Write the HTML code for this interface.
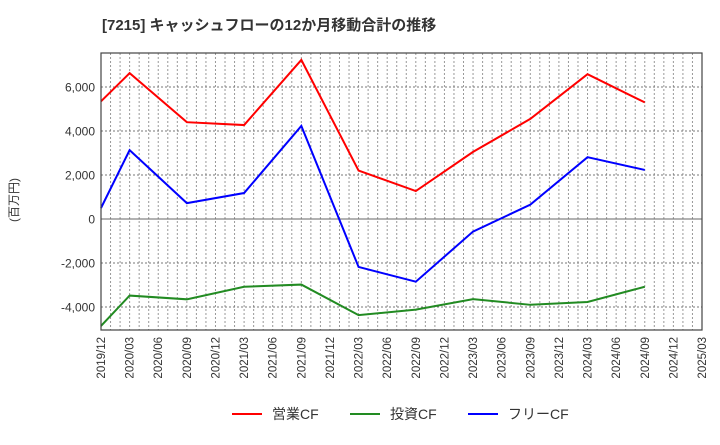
<!DOCTYPE html>
<html><head><meta charset="utf-8"><style>
body{margin:0;background:#fff}
svg text{font-family:"Liberation Sans","Noto Sans CJK JP",sans-serif}
</style></head><body>
<svg width="720" height="440" xmlns="http://www.w3.org/2000/svg">
<rect width="720" height="440" fill="#fff"/>
<text x="102" y="30" font-size="15" font-weight="bold" fill="#333">[7215]  キャッシュフローの12か月移動合計の推移</text>
<text transform="translate(18,200) rotate(-90)" font-size="12" fill="#333" text-anchor="middle">(百万円)</text>
<g id="grid"></g>
<g id="series"></g>
<rect x="101" y="53" width="601" height="277" fill="none" stroke="#444" stroke-width="1.2"/>
<g id="legend" font-size="14" fill="#333">
<line x1="232" y1="414" x2="262" y2="414" stroke="#ff0000" stroke-width="2"/>
<text x="272" y="419">営業CF</text>
<line x1="350" y1="414" x2="380" y2="414" stroke="#228b22" stroke-width="2"/>
<text x="390" y="419">投資CF</text>
<line x1="468" y1="414" x2="498" y2="414" stroke="#0000ff" stroke-width="2"/>
<text x="508" y="419">フリーCF</text>
</g>
</svg>
<script>
const xLabels=["2019/12","2020/03","2020/06","2020/09","2020/12","2021/03","2021/06","2021/09","2021/12","2022/03","2022/06","2022/09","2022/12","2023/03","2023/06","2023/09","2023/12","2024/03","2024/06","2024/09","2024/12","2025/03"];
const yTicks=[-4000,-2000,0,2000,4000,6000];
const pointQuarters=[0,1,3,5,7,9,11,13,15,17,19];
const operatingCF=[5350,6630,4400,4270,7230,2200,1270,3050,4550,6580,5300];
const investingCF=[-4860,-3480,-3650,-3080,-2980,-4370,-4120,-3640,-3900,-3770,-3080];
const freeCF=[500,3130,720,1180,4230,-2180,-2850,-570,650,2810,2230];
const X0=101,X1=702,Y0=53,Y1=330,YMIN=-5045,YMAX=7545;
const xs=q=>X0+(X1-X0)*q/(xLabels.length-1);
const ys=v=>Y1-(v-YMIN)/(YMAX-YMIN)*(Y1-Y0);
const NS="http://www.w3.org/2000/svg";
const grid=document.getElementById('grid'),ser=document.getElementById('series'),svg=document.querySelector('svg');
function mk(tag,attrs,parent){const e=document.createElementNS(NS,tag);for(const k in attrs)e.setAttribute(k,attrs[k]);parent.appendChild(e);return e;}
for(let m=1;m<(xLabels.length-1)*3;m++){const x=xs(m/3);
const l=mk('line',{x1:x,x2:x,y1:Y0,y2:Y1,stroke:'#999','stroke-dasharray':'2,2','stroke-width':1},grid);

}
yTicks.forEach(v=>{const y=ys(v);
const l=mk('line',{x1:X0,x2:X1,y1:y,y2:y,stroke:v===0?'#666':'#777','stroke-dasharray':v===0?'none':'2,2','stroke-width':1},grid);


const t=mk('text',{x:X0-6,y:y+4.5,'font-size':12,fill:'#333','text-anchor':'end'},svg);
t.textContent=v.toLocaleString('en-US');

});
xLabels.forEach((s,i)=>{const x=xs(i);
const t=mk('text',{transform:`translate(${x+4},337) rotate(-90)`,'font-size':11.5,fill:'#333','text-anchor':'end'},svg);
t.textContent=s;

});
[[operatingCF,'#ff0000','operating-cf-line'],[investingCF,'#228b22','investing-cf-line'],[freeCF,'#0000ff','free-cf-line']].forEach(([d,c,n])=>{
const p=mk('polyline',{points:d.map((v,i)=>xs(pointQuarters[i])+','+ys(v)).join(' '),fill:'none',stroke:c,'stroke-width':2},ser);

});
</script>
</body></html>
